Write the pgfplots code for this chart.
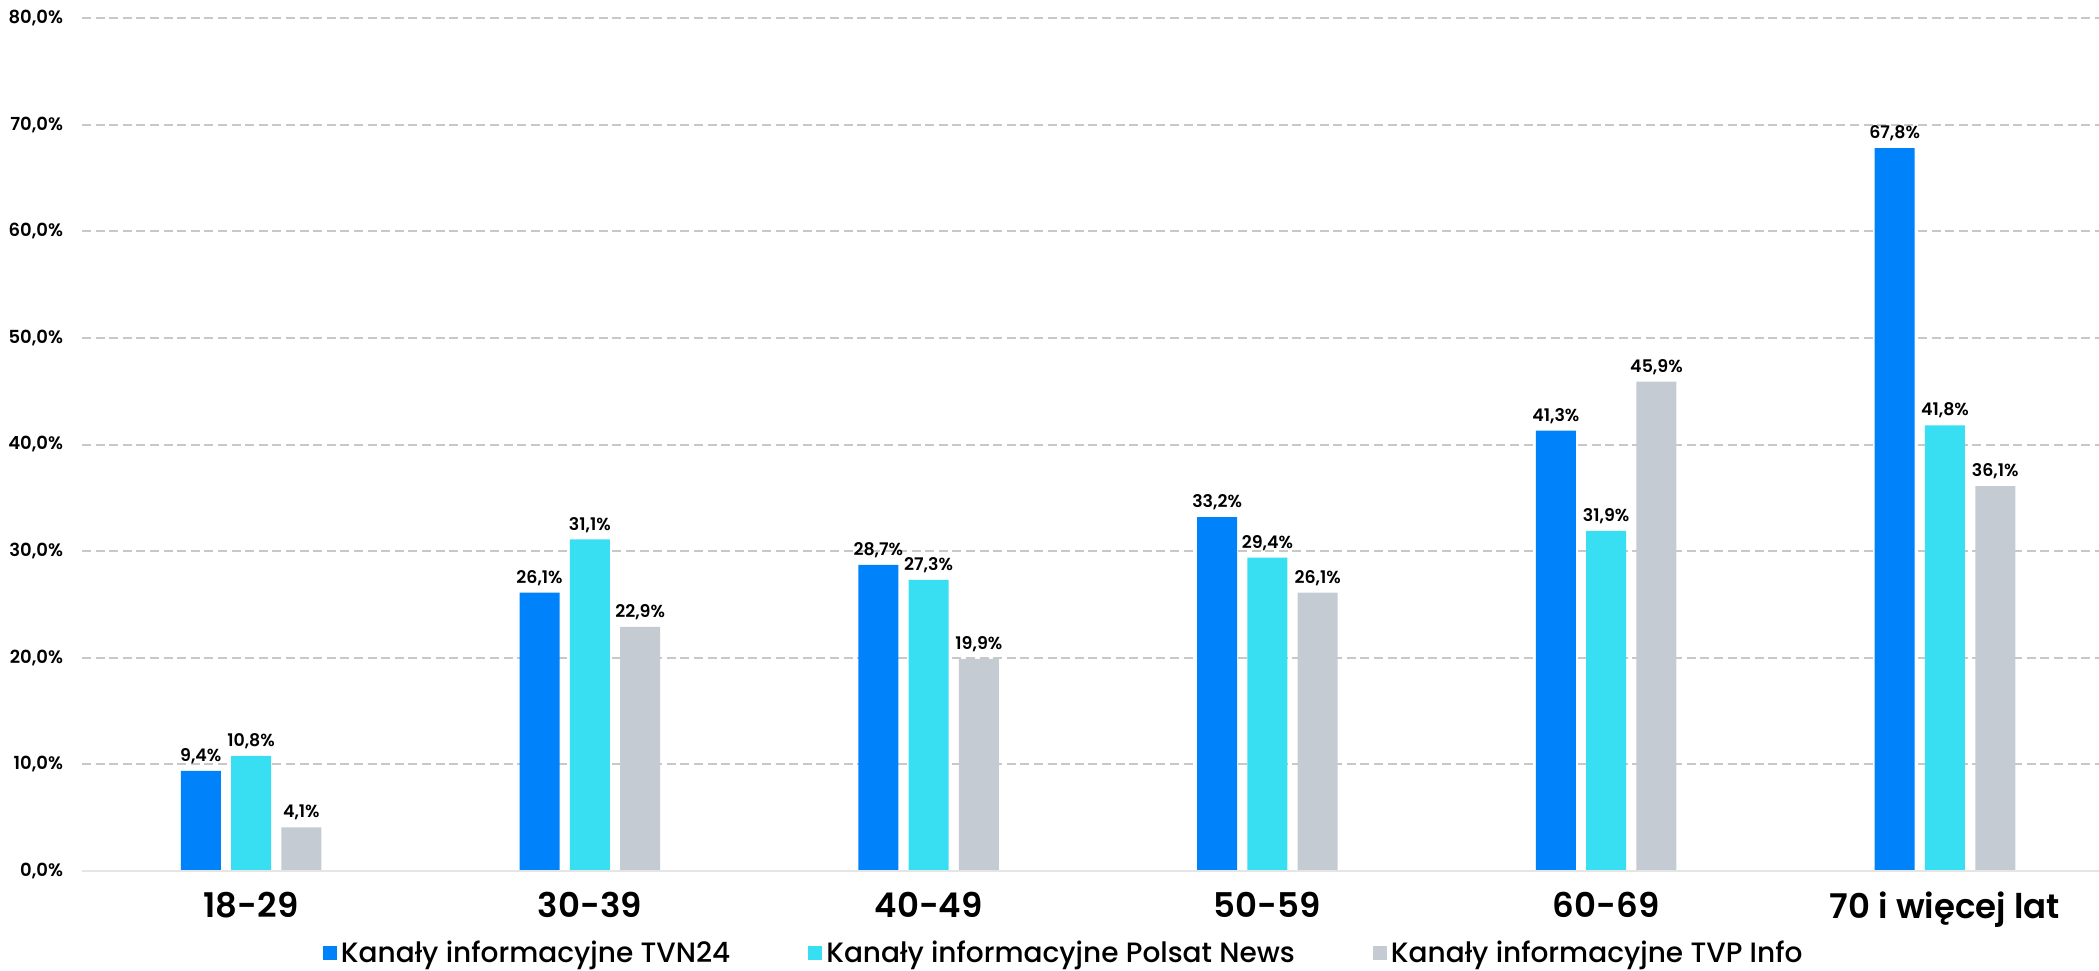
\documentclass[border=0pt]{standalone}
\usepackage{fontspec}
\setmainfont{Poppins}
\newfontfamily\pmed{Poppins Medium}
\newfontfamily\psemi{Poppins SemiBold}
\usepackage{pgfplots}
\pgfplotsset{compat=1.18}

\definecolor{tvn}{HTML}{0082FA}
\definecolor{polsat}{HTML}{38DFF2}
\definecolor{tvp}{HTML}{C5CBD3}
\definecolor{gridc}{HTML}{C8C8C8}

\begin{document}
\begin{tikzpicture}
\begin{axis}[
  scale only axis,
  width=1008.5pt, height=426.5pt,
  ymin=0, ymax=80,
  xmin=-0.499, xmax=5.455,
  ybar=5.15pt, bar width=20pt,
  xtick={0,1,2,3,4,5},
  xticklabels={18-29,30-39,40-49,50-59,60-69,70 i więcej lat},
  ytick={0,10,...,80},
  axis line style={draw=none},
  major tick length=0pt,
  ymajorgrids,
  grid style={gridc, line width=1pt, dash pattern=on 4.5pt off 2.3pt},
  /pgf/number format/assume math mode=true,
  yticklabel={\pgfmathprintnumber[use comma,fixed,fixed zerofill,precision=1]{\tick}\%},
  yticklabel style={font=\fontsize{9}{10}\selectfont\psemi, xshift=-6pt},
  xticklabel style={font=\fontsize{17}{19}\selectfont\psemi, yshift=-7pt},
  nodes near coords={\pgfmathprintnumber[use comma,fixed,fixed zerofill,precision=1]{\pgfplotspointmeta}\%},
  every node near coord/.append style={font=\fontsize{8.7}{10}\selectfont\psemi, black},
  legend columns=3,
  legend style={draw=none, at={(axis description cs:0.4872,0)}, anchor=center, yshift=-41pt,
    font=\fontsize{14}{16}\selectfont\pmed, /tikz/every even column/.append style={column sep=37pt}},
  legend image code/.code={\fill[#1] (0pt,-3.5pt) rectangle (7pt,3.5pt);},
]
\addplot[fill=tvn, draw=none] coordinates {(0,9.4) (1,26.1) (2,28.7) (3,33.2) (4,41.3) (5,67.8)};
\addplot[fill=polsat, draw=none] coordinates {(0,10.8) (1,31.1) (2,27.3) (3,29.4) (4,31.9) (5,41.8)};
\addplot[fill=tvp, draw=none] coordinates {(0,4.1) (1,22.9) (2,19.9) (3,26.1) (4,45.9) (5,36.1)};
\legend{Kanały informacyjne TVN24, Kanały informacyjne Polsat News, Kanały informacyjne TVP Info}
\draw[color=gray!20, line width=1pt] (axis cs:-0.499,0) -- (axis cs:5.455,0);
\end{axis}
\pgfresetboundingbox
\path[use as bounding box] (-41pt,-49.5pt) rectangle (1008.5pt,435.5pt);
\end{tikzpicture}
\end{document}
